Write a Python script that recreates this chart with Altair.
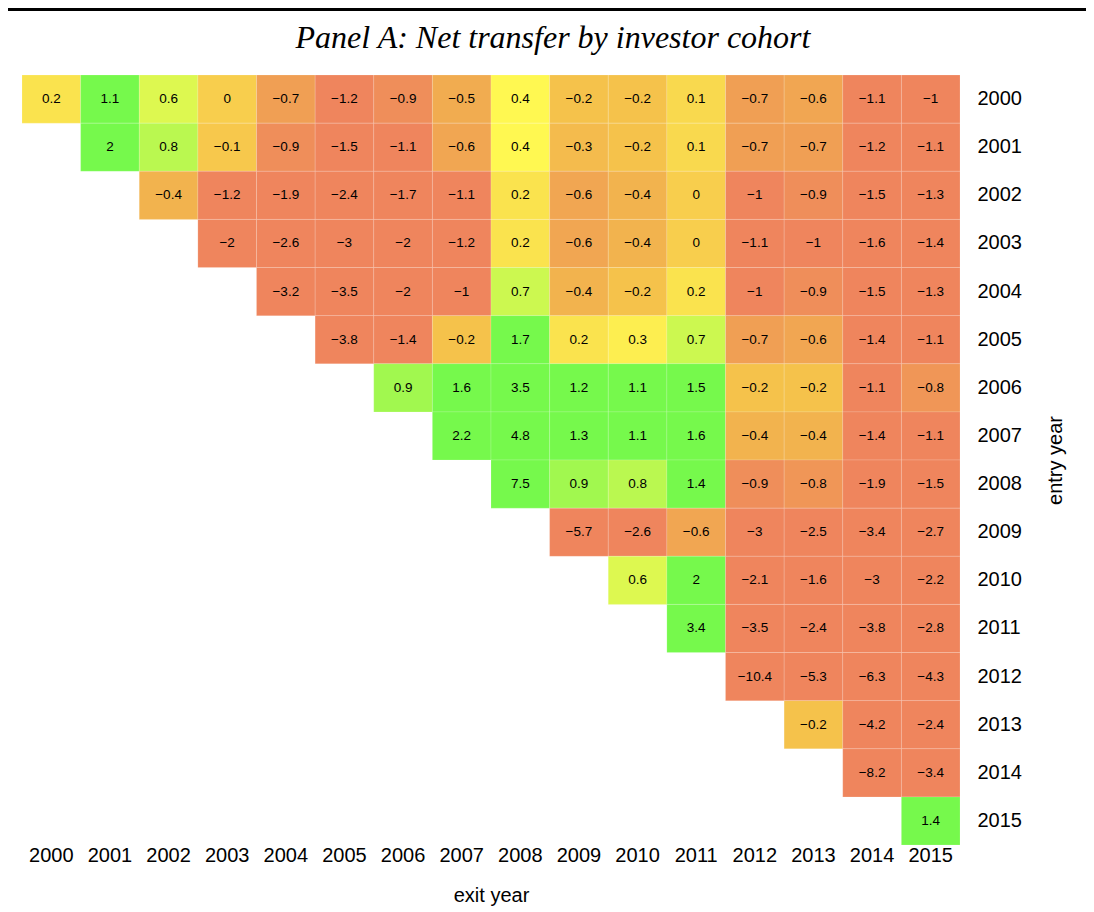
import altair as alt
import pandas as pd

years = list(range(2000, 2016))

# Net transfer values: one list per entry year, covering exit years entry..2015
row_2000 = [0.2, 1.1, 0.6, 0, -0.7, -1.2, -0.9, -0.5, 0.4, -0.2, -0.2, 0.1, -0.7, -0.6, -1.1, -1]
row_2001 = [2, 0.8, -0.1, -0.9, -1.5, -1.1, -0.6, 0.4, -0.3, -0.2, 0.1, -0.7, -0.7, -1.2, -1.1]
row_2002 = [-0.4, -1.2, -1.9, -2.4, -1.7, -1.1, 0.2, -0.6, -0.4, 0, -1, -0.9, -1.5, -1.3]
row_2003 = [-2, -2.6, -3, -2, -1.2, 0.2, -0.6, -0.4, 0, -1.1, -1, -1.6, -1.4]
row_2004 = [-3.2, -3.5, -2, -1, 0.7, -0.4, -0.2, 0.2, -1, -0.9, -1.5, -1.3]
row_2005 = [-3.8, -1.4, -0.2, 1.7, 0.2, 0.3, 0.7, -0.7, -0.6, -1.4, -1.1]
row_2006 = [0.9, 1.6, 3.5, 1.2, 1.1, 1.5, -0.2, -0.2, -1.1, -0.8]
row_2007 = [2.2, 4.8, 1.3, 1.1, 1.6, -0.4, -0.4, -1.4, -1.1]
row_2008 = [7.5, 0.9, 0.8, 1.4, -0.9, -0.8, -1.9, -1.5]
row_2009 = [-5.7, -2.6, -0.6, -3, -2.5, -3.4, -2.7]
row_2010 = [0.6, 2, -2.1, -1.6, -3, -2.2]
row_2011 = [3.4, -3.5, -2.4, -3.8, -2.8]
row_2012 = [-10.4, -5.3, -6.3, -4.3]
row_2013 = [-0.2, -4.2, -2.4]
row_2014 = [-8.2, -3.4]
row_2015 = [1.4]

rows = [row_2000, row_2001, row_2002, row_2003, row_2004, row_2005, row_2006,
        row_2007, row_2008, row_2009, row_2010, row_2011, row_2012, row_2013,
        row_2014, row_2015]

records = []
for entry, vals in zip(years, rows):
    for k, v in enumerate(vals):
        records.append({"entry": str(entry), "exit": str(entry + k), "value": v})
df = pd.DataFrame(records)

year_labels = [str(y) for y in years]

color_domain = [-1.0, -0.7, -0.4, -0.2, 0.0, 0.2, 0.4, 0.6, 0.8, 1.0, 1.1]
color_range = ["#EF855D", "#F09F54", "#F2B34E", "#F5C24B", "#F8CE4D", "#FAE34E",
               "#FFF851", "#DDF850", "#BAF850", "#88F84D", "#76F94C"]

W, H = 938, 770
PAD_L, PAD_T, PAD_R, PAD_B = 14, 67, 126, 66

base = alt.Chart(df)

rects = base.mark_rect(stroke="white", strokeWidth=0.6, strokeOpacity=0.25).encode(
    x=alt.X("exit:O", sort=year_labels, scale=alt.Scale(domain=year_labels, paddingInner=0, paddingOuter=0),
            axis=alt.Axis(orient="bottom", title="exit year", labelAngle=0, ticks=False, domain=False,
                          labelFont="Liberation Sans", labelFontSize=20, labelColor="black",
                          labelPadding=0, titleFont="Liberation Sans", titleFontSize=20,
                          titleFontWeight="normal", titleColor="black", titlePadding=20)),
    y=alt.Y("entry:O", sort=year_labels, scale=alt.Scale(domain=year_labels, paddingInner=0, paddingOuter=0),
            axis=alt.Axis(orient="right", title="entry year", ticks=False, domain=False,
                          labelFont="Liberation Sans", labelFontSize=20, labelColor="black",
                          labelPadding=17, titleFont="Liberation Sans", titleFontSize=20,
                          titleFontWeight="normal", titleColor="black", titlePadding=44,
                          titleAngle=270)),
    color=alt.Color("value:Q", legend=None,
                    scale=alt.Scale(domain=color_domain, range=color_range, clamp=True,
                                    interpolate="rgb")),
)

texts = base.mark_text(font="Liberation Sans", fontSize=13.5, color="black").encode(
    x=alt.X("exit:O", sort=year_labels),
    y=alt.Y("entry:O", sort=year_labels),
    text=alt.Text("value:Q", format=".1~f"),
)

title_df = pd.DataFrame({"t": ["Panel A: Net transfer by investor cohort"]})
title = alt.Chart(title_df).mark_text(
    font="Liberation Serif", fontStyle="italic", fontSize=32, color="black",
    align="center", baseline="middle"
).encode(x=alt.value(531), y=alt.value(-37), text="t:N")

rule = alt.Chart(title_df).mark_rule(color="black", strokeWidth=3).encode(
    x=alt.value(-PAD_L), x2=alt.value(W + PAD_R), y=alt.value(-PAD_T + 1.5)
)

chart = alt.layer(rects, texts, title, rule).properties(
    width=W, height=H,
    autosize=alt.AutoSizeParams(type="none"),
    padding={"left": PAD_L, "top": PAD_T, "right": PAD_R, "bottom": PAD_B},
).configure_view(stroke=None)

chart.save("out.html", embed_options={"renderer": "svg", "actions": False})
